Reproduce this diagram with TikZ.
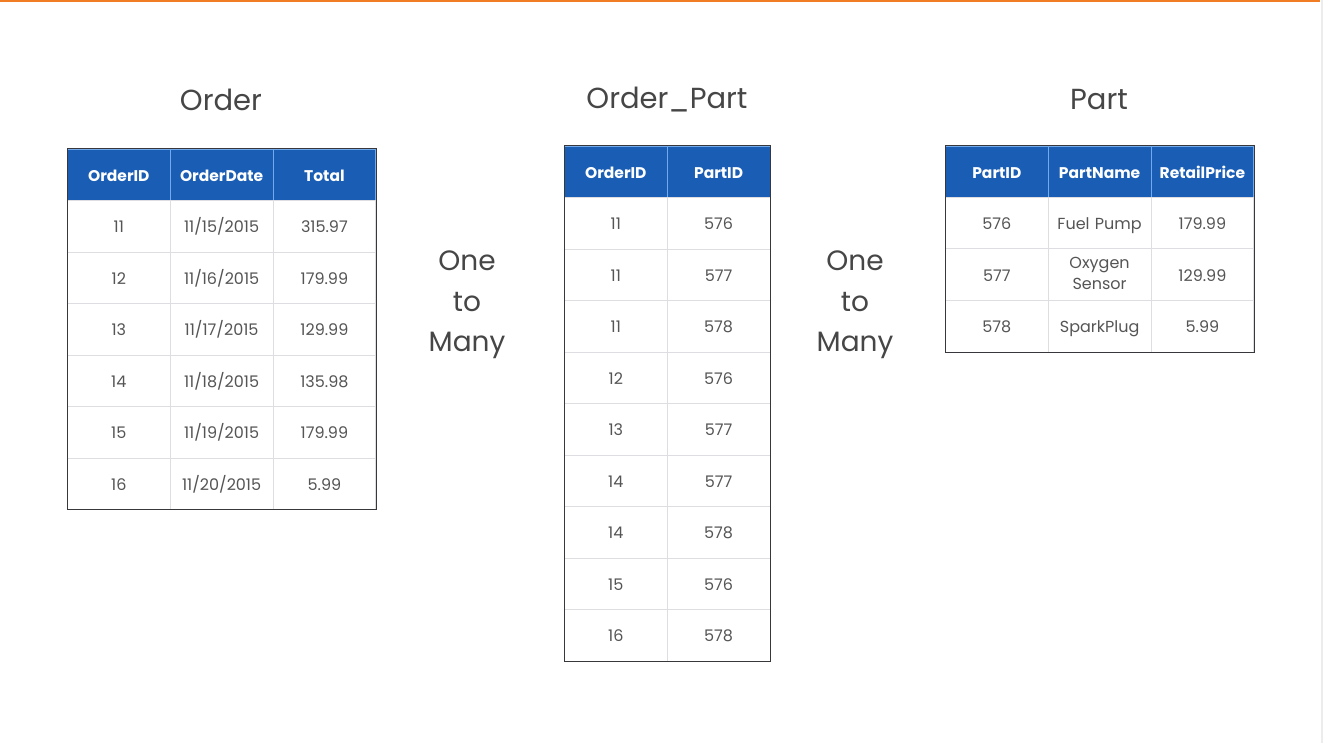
\documentclass[tikz,border=0pt]{standalone}
\usepackage{fontspec}
\setmainfont{Poppins}
\usetikzlibrary{matrix}

\definecolor{headblue}{RGB}{25,93,180}
\definecolor{headline}{RGB}{115,170,235}
\definecolor{gridgray}{RGB}{222,222,226}
\definecolor{framegray}{RGB}{55,55,60}
\definecolor{textgray}{RGB}{85,85,85}
\definecolor{titlegray}{RGB}{70,70,70}
\definecolor{topline}{RGB}{240,125,35}
\definecolor{edgegray}{RGB}{236,236,236}

\newcommand{\stackcell}[2]{\begin{tabular}{@{}c@{}}#1\\#2\end{tabular}}

\begin{document}
\begin{tikzpicture}[x=1pt,y=-1pt]

\tikzset{table matrix/.style={
    matrix of nodes, line width=0.8pt,
    column sep=-\pgflinewidth, row sep=-\pgflinewidth,
    inner sep=0pt, outer sep=0pt, anchor=north west,
    nodes={draw=gridgray, fill=white, text=textgray,
      minimum height=51.5pt, anchor=center, text width=#1, align=center,
      inner sep=0pt, font=\fontsize{16}{21}\selectfont,
      execute at begin node=\rule[-0.25em]{0pt}{1.3em}
    },
    row 1/.style={nodes={fill=headblue, draw=headline, text=white,
        minimum height=51pt, font=\fontsize{15.5}{18}\selectfont\bfseries}},
  }, table matrix/.default=102.8pt,
  title/.style={text=titlegray, font=\fontsize{29}{35}\selectfont},
  relation/.style={text=titlegray, align=center,
    font=\fontsize{28}{40.5}\selectfont},
  table frame/.style={draw=framegray, line width=1pt}
}

% page
\useasboundingbox (0,0) rectangle (1323,743);
\fill[white] (0,0) rectangle (1323,743);
\fill[topline] (0,0) rectangle (1320,1.6);
\fill[edgegray] (1320.5,0) rectangle (1323,743);

% titles
\node[title] (ordertitle) at (221,100) {Order};
\node[title] (linktitle) at (667,100) {Order\_Part};
\node[title] (parttitle) at (1099,100) {Part};

% tables
\matrix[table matrix] (order) at (67,149) {
OrderID & OrderDate & Total \\
11 & 11/15/2015 & 315.97 \\
12 & 11/16/2015 & 179.99 \\
13 & 11/17/2015 & 129.99 \\
14 & 11/18/2015 & 135.98 \\
15 & 11/19/2015 & 179.99 \\
16 & 11/20/2015 & 5.99 \\
};
\draw[table frame] (order.north west) rectangle (order.south east);

\matrix[table matrix] (orderpart) at (564,146) {
OrderID & PartID \\
11 & 576 \\
11 & 577 \\
11 & 578 \\
12 & 576 \\
13 & 577 \\
14 & 577 \\
14 & 578 \\
15 & 576 \\
16 & 578 \\
};
\draw[table frame] (orderpart.north west) rectangle (orderpart.south east);

\matrix[table matrix] (part) at (945,146) {
PartID & PartName & RetailPrice \\
576 & Fuel Pump & 179.99 \\
577 & \stackcell{Oxygen}{Sensor} & 129.99 \\
578 & SparkPlug & 5.99 \\
};
\draw[table frame] (part.north west) rectangle (part.south east);

% relations
\node[relation] (leftrel) at (467,305) {One\\to\\Many};
\node[relation] (rightrel) at (855,305) {One\\to\\Many};

\end{tikzpicture}
\end{document}
